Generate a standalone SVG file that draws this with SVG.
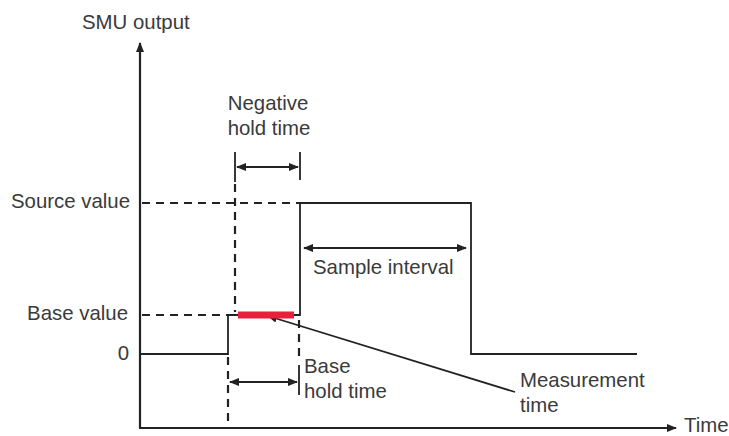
<svg xmlns="http://www.w3.org/2000/svg" width="729" height="436" viewBox="0 0 729 436">
<style>
text{font-family:"Liberation Sans",Arial,sans-serif;font-size:20.4px;fill:#3a3a3a}
.ax{stroke:#222;stroke-width:2.2;fill:none}
.sig{stroke:#222;stroke-width:1.8;fill:none}
.dash{stroke:#222;stroke-width:2.2;stroke-dasharray:8 6;fill:none}
.tick{stroke:#222;stroke-width:1.8}
.dim{stroke:#222;stroke-width:1.8;fill:none}
</style>
<defs>
<marker id="ah" viewBox="0 0 10 10" refX="9" refY="5" markerWidth="10" markerHeight="10" markerUnits="userSpaceOnUse" orient="auto-start-reverse">
<path d="M0,1 L10,5 L0,9 z" fill="#222"/>
</marker>
</defs>
<g id="connectors">
<line class="ax" x1="140" y1="428" x2="140" y2="43" marker-end="url(#ah)"/>
<line class="ax" x1="139" y1="428" x2="676" y2="428" marker-end="url(#ah)"/>
<line class="dash" x1="142" y1="203" x2="300" y2="203"/>
<line class="dash" x1="142" y1="315" x2="228" y2="315"/>
<line class="dash" x1="235" y1="184" x2="235" y2="312"/>
<line class="dash" x1="228" y1="357" x2="228" y2="428"/>
<line class="dash" x1="299" y1="320" x2="299" y2="358"/>
<polyline class="sig" points="140,354 228,354 228,315 300,315 300,203 471,203 471,354 637,354"/>
<line class="tick" x1="235" y1="152" x2="235" y2="182"/>
<line class="tick" x1="300" y1="152" x2="300" y2="180"/>
<line class="dim" x1="237" y1="167" x2="298" y2="167" marker-start="url(#ah)" marker-end="url(#ah)"/>
<line class="dim" x1="304" y1="248" x2="466" y2="248" marker-start="url(#ah)" marker-end="url(#ah)"/>
<line class="tick" x1="299" y1="365" x2="299" y2="395"/>
<line class="dim" x1="230" y1="382" x2="297" y2="382" marker-start="url(#ah)" marker-end="url(#ah)"/>
<line class="dim" x1="515" y1="392" x2="268" y2="316" marker-end="url(#ah)"/>
</g>
<g id="measurement-bar">
<rect x="238" y="311.5" width="56" height="7" fill="#e8203a"/>
</g>
<g id="labels">
<text x="82" y="29">SMU output</text>
<text x="268" y="110" text-anchor="middle">Negative</text>
<text x="269" y="135" text-anchor="middle">hold time</text>
<text x="130" y="208" text-anchor="end">Source value</text>
<text x="128" y="320" text-anchor="end">Base value</text>
<text x="129" y="360" text-anchor="end">0</text>
<text x="313" y="274">Sample interval</text>
<text x="304" y="373">Base</text>
<text x="304" y="398">hold time</text>
<text x="520" y="387">Measurement</text>
<text x="520" y="412">time</text>
<text x="684" y="432">Time</text>
</g>
</svg>
